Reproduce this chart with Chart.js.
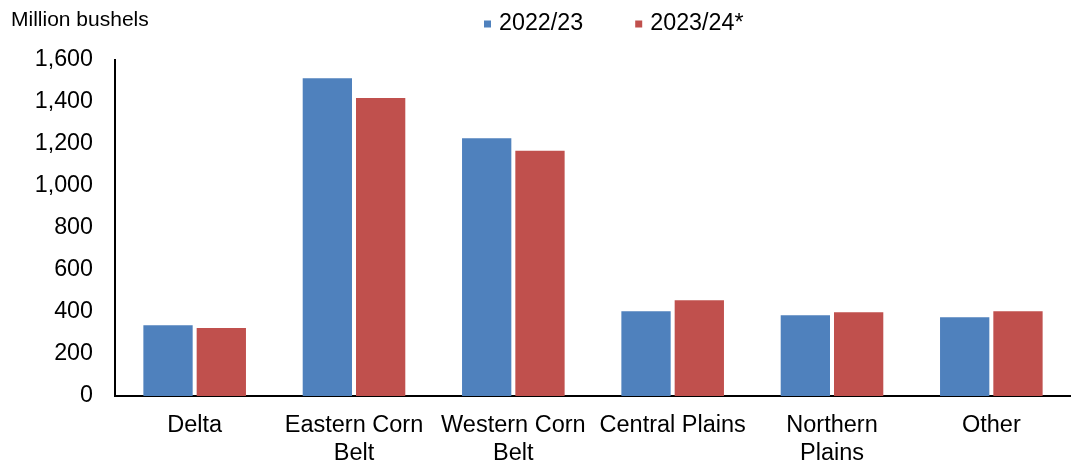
<!DOCTYPE html>
<html>
<head>
<meta charset="utf-8">
<script src="https://cdn.jsdelivr.net/npm/chart.js@4"></script>
<style>
  html, body { margin: 0; padding: 0; background: #ffffff; }
  #wrap { width: 1071px; height: 465px; }
</style>
</head>
<body>
<div id="wrap"><canvas id="c" width="1071" height="465"></canvas></div>
<script>
const categories = [
  'Delta',
  ['Eastern Corn', 'Belt'],
  ['Western Corn', 'Belt'],
  'Central Plains',
  ['Northern', 'Plains'],
  'Other'
];
const seriesNames = ['2022/23', '2023/24*'];
const values2022 = [337, 1513, 1227, 403, 384, 375];
const values2023 = [324, 1419, 1168, 456, 399, 403];
const yTicks = [0, 200, 400, 600, 800, 1000, 1200, 1400, 1600];
const unitLabel = 'Million bushels';

const FONT = "'Liberation Sans', Arial, Helvetica, sans-serif";
const BLUE = '#4F81BD';
const RED = '#C0504D';

const topTextPlugin = {
  id: 'topText',
  afterDraw(chart) {
    const ctx = chart.ctx;
    ctx.save();
    ctx.fillStyle = '#000';
    ctx.font = "21px " + FONT;
    ctx.textBaseline = 'alphabetic';
    ctx.textAlign = 'left';
    ctx.fillText(unitLabel, 11, 26);
    ctx.font = "23.3px " + FONT;
    ctx.textBaseline = 'middle';
    let x = 484;
    const y = 24;
    chart.data.datasets.forEach((ds) => {
      ctx.fillStyle = ds.backgroundColor;
      ctx.fillRect(x, y - 3.5, 7, 7);
      ctx.fillStyle = '#000';
      ctx.fillText(ds.label, x + 15, y);
      x += 15 + ctx.measureText(ds.label).width + 52;
    });
    ctx.restore();
  }
};

new Chart(document.getElementById('c'), {
  type: 'bar',
  data: {
    labels: categories,
    datasets: [
      { label: seriesNames[0], data: values2022, backgroundColor: BLUE,
        barPercentage: 0.925, categoryPercentage: 0.669 },
      { label: seriesNames[1], data: values2023, backgroundColor: RED,
        barPercentage: 0.925, categoryPercentage: 0.669 }
    ]
  },
  options: {
    responsive: false,
    animation: false,
    devicePixelRatio: 1,
    layout: { padding: { top: 60, left: 0, right: 0, bottom: 0 } },
    plugins: {
      legend: { display: false },
      tooltip: { enabled: false },
      title: { display: false }
    },
    scales: {
      x: {
        z: 1,
        grid: { display: false, drawTicks: false },
        border: { display: true, color: '#000', width: 2 },
        ticks: {
          color: '#000',
          font: { family: FONT, size: 23.5 },
          padding: 15,
          maxRotation: 0,
          autoSkip: false
        },
        afterFit(scale) { scale.height = 69; }
      },
      y: {
        min: 0,
        max: 1600,
        grid: { display: false, drawTicks: false },
        border: { display: true, color: '#000', width: 2 },
        afterBuildTicks(scale) { scale.ticks = yTicks.map(v => ({ value: v })); },
        ticks: {
          color: '#000',
          font: { family: FONT, size: 23.3 },
          padding: 22,
          callback: v => v.toLocaleString('en-US')
        },
        afterFit(scale) { scale.width = 115; }
      }
    }
  },
  plugins: [topTextPlugin]
});
</script>
</body>
</html>
